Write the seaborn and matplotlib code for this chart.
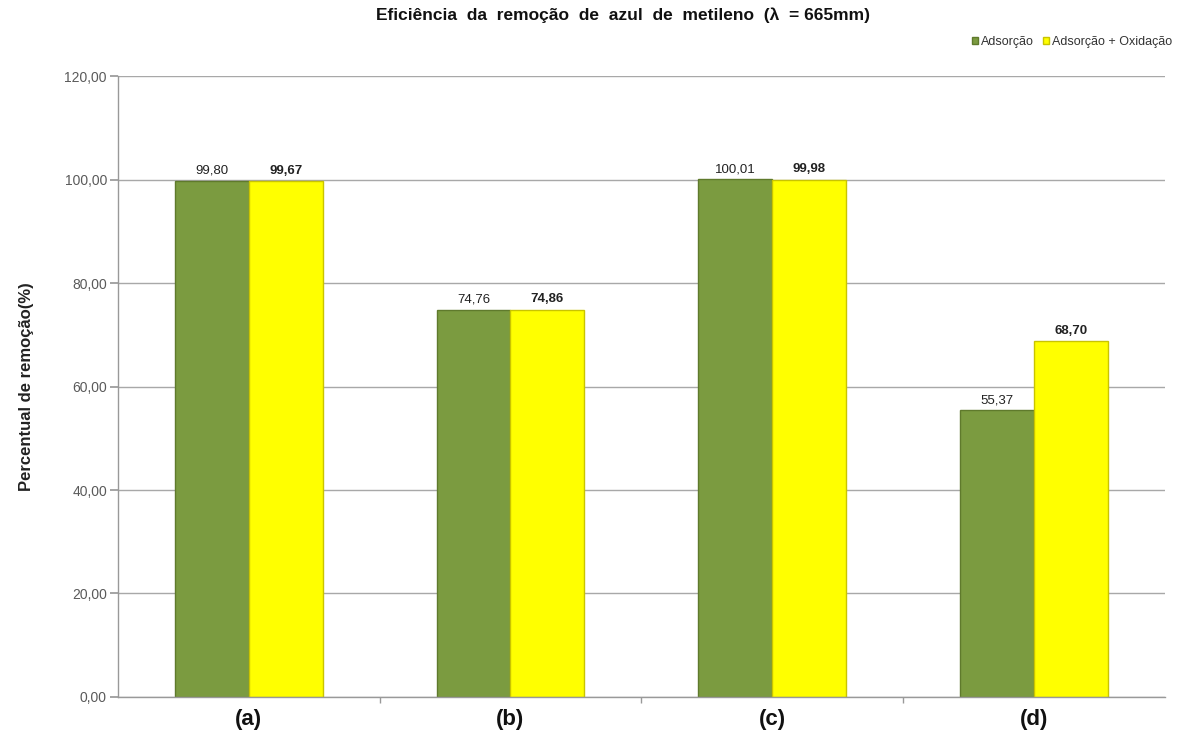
import matplotlib
matplotlib.use("Agg")
import matplotlib.pyplot as plt
import seaborn as sns
import pandas as pd
from matplotlib.patches import Patch

categories = ["(a)", "(b)", "(c)", "(d)"]
series = ["Adsorção", "Adsorção + Oxidação"]
adsorcao = [99.80, 74.76, 100.01, 55.37]
adsorcao_oxidacao = [99.67, 74.86, 99.98, 68.70]
yticks = [0, 20, 40, 60, 80, 100, 120]

df = pd.DataFrame({
    "categoria": categories * 2,
    "serie": [series[0]] * 4 + [series[1]] * 4,
    "valor": adsorcao + adsorcao_oxidacao,
})

sns.set_theme(style="white")
plt.rcParams["font.family"] = ["Liberation Sans", "DejaVu Sans"]

green = "#7B9B40"
yellow = "#FFFF00"
palette = {series[0]: green, series[1]: yellow}
edges = {series[0]: "#5F7A2C", series[1]: "#C9C400"}

fig = plt.figure(figsize=(11.86, 7.36), dpi=100)
ax = fig.add_axes([0.0995, 0.053, 0.8825, 0.8437])

sns.barplot(data=df, x="categoria", y="valor", hue="serie", order=categories,
            hue_order=series, palette=palette, width=0.565, gap=0,
            saturation=1, legend=False, ax=ax)

for cont, s in zip(ax.containers, series):
    for bar in cont:
        bar.set_edgecolor(edges[s])
        bar.set_linewidth(1.0)
    weight = "normal" if s == series[0] else "bold"
    labels = [f"{v:.2f}".replace(".", ",") for v in cont.datavalues]
    ax.bar_label(cont, labels=labels, padding=3, fontsize=9.5,
                 color="#222222", fontweight=weight)

ax.set_xlim(-0.5, 3.5)
ax.set_ylim(0, 120)
ax.set_yticks(yticks)
ax.set_yticklabels([f"{v:.2f}".replace(".", ",") for v in yticks],
                   fontsize=10, color="#5A5A5A")
ax.yaxis.grid(True, color="#A8A8A8", linewidth=1.0)
ax.set_axisbelow(True)

ax.set_xticks(range(len(categories)))
ax.set_xticklabels(categories, fontsize=16, fontweight="bold", color="#111111")
ax.tick_params(axis="x", length=0, pad=9)
ax.set_xticks([0.5, 1.5, 2.5], minor=True)
ax.tick_params(axis="x", which="minor", length=4, color="#999999", direction="out", bottom=True)
ax.tick_params(axis="y", length=6, color="#999999", direction="out", left=True, pad=2)

for side in ["top", "right"]:
    ax.spines[side].set_visible(False)
for side in ["left", "bottom"]:
    ax.spines[side].set_color("#999999")
    ax.spines[side].set_linewidth(1.0)

ax.set_xlabel("")
ax.set_ylabel("Percentual de remoção(%)", fontsize=12, fontweight="bold",
              color="#222222", labelpad=22)

fig.text(0.525, 0.979, "Eficiência  da  remoção  de  azul  de  metileno  (λ  = 665mm)",
         ha="center", va="center", fontsize=12.5, fontweight="bold", color="#111111")

handles = [Patch(facecolor=green, edgecolor=edges[series[0]]),
           Patch(facecolor=yellow, edgecolor=edges[series[1]])]
fig.legend(handles, series, loc="center right", bbox_to_anchor=(0.998, 0.943),
           ncol=2, frameon=False, fontsize=9, handlelength=0.5, handleheight=0.5,
           handletextpad=0.25, columnspacing=0.7, labelcolor="#333333")

fig.savefig("out.png", dpi=100)
